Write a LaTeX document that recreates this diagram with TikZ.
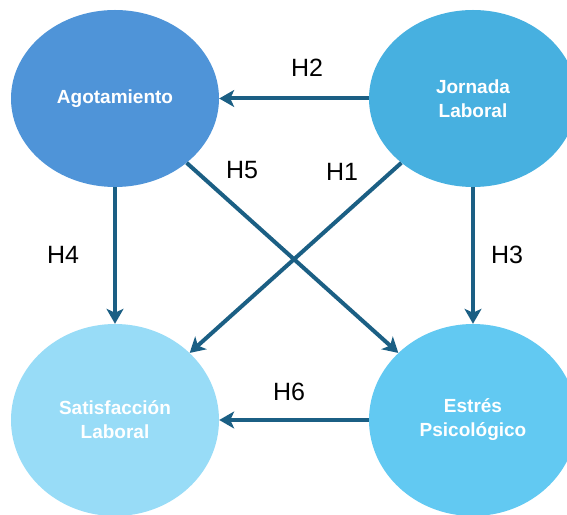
\documentclass[tikz,border=0pt]{standalone}
\usepackage{fontspec}
\setmainfont{Liberation Sans}
\usetikzlibrary{shapes.geometric,arrows.meta}
\definecolor{cago}{HTML}{4F94D8}
\definecolor{cjor}{HTML}{47B0E0}
\definecolor{csat}{HTML}{98DCF7}
\definecolor{cest}{HTML}{62C9F2}
\definecolor{carr}{HTML}{1B5F84}
\tikzset{
  var/.style={ellipse, inner sep=0pt, minimum width=208pt, text=white, align=center,
    font=\fontsize{19}{24}\selectfont\bfseries},
  topv/.style={var, minimum height=177pt},
  botv/.style={var, minimum height=192pt},
  link/.style={draw=carr, line width=4pt, -{Stealth[length=15pt,width=17pt,inset=4pt]}},
  hyp/.style={font=\fontsize{25}{28}\selectfont, text=black}
}
\begin{document}
\begin{tikzpicture}[x=1pt,y=1pt]
\clip (0,0) rectangle (567,514);
\fill[white] (0,0) rectangle (567,514);
\node[topv, fill=cago] (ago) at (115,415.5) {Agotamiento};
\node[topv, fill=cjor] (jor) at (473,415.5) {Jornada\\Laboral};
\node[botv, fill=csat] (sat) at (115,94) {Satisfacción\\Laboral};
\node[botv, fill=cest] (est) at (473,94) {Estrés\\Psicológico};
\draw[link] (jor) -- (ago);
\draw[link] (ago) -- (sat);
\draw[link] (jor) -- (est);
\draw[link] (est) -- (sat);
\draw[link] (ago) -- (est);
\draw[link] (jor) -- (sat);
\node[hyp] (h2) at (307,446) {H2};
\node[hyp] (h5) at (242,344) {H5};
\node[hyp] (h1) at (342,342) {H1};
\node[hyp] (h4) at (63,259) {H4};
\node[hyp] (h3) at (507,259) {H3};
\node[hyp] (h6) at (289,122) {H6};
\end{tikzpicture}
\end{document}
